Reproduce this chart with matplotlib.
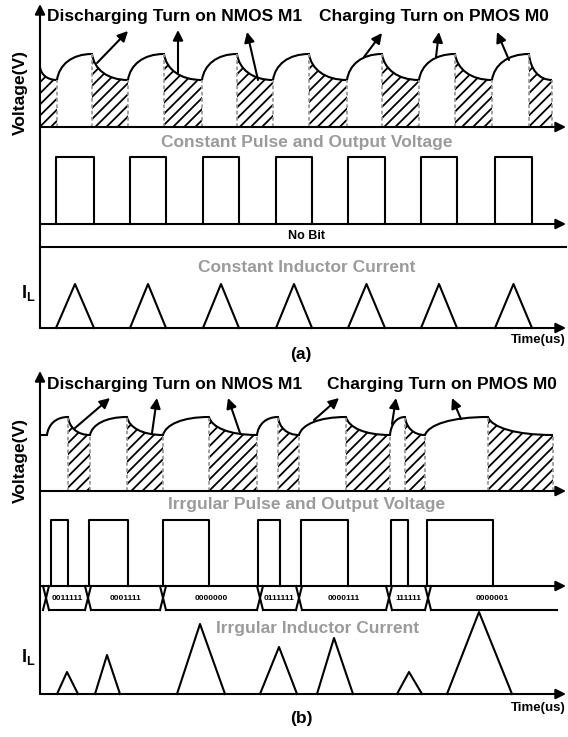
import matplotlib
matplotlib.use("Agg")
from matplotlib import pyplot as plt
from matplotlib.path import Path
from matplotlib.patches import PathPatch

# ---- data (x = time position in px, h = height above the row baseline) ----
# (a) output voltage: charge (c) / discharge (d) phase boundaries
a_edges = [40, 57, 92, 128, 164, 202, 237, 273, 309, 347, 382, 419, 455, 492, 529, 552]
a_phase = ['d', 'c'] * 7 + ['d']
a_v_high, a_v_low, a_v_start = 73, 47, 60

# (a) constant pulses and inductor current
a_pulse_on = [56, 130, 203, 276, 348, 421, 495]
a_pulse_off = [94, 166, 239, 312, 385, 457, 532]
a_pulse_h = 67
a_il_peak = [44, 44, 44, 44, 44, 44, 44]

# (b) output voltage
b_edges = [40, 47, 68, 90, 127, 163, 209, 257, 278, 299, 346, 390, 405, 425, 488, 553]
b_phase = ['f'] + ['c', 'd'] * 7
b_v_high, b_v_low = 74, 56

# (b) irregular pulses, bit words, inductor current
b_pulse_on = [51, 89, 163, 258, 301, 391, 427]
b_pulse_off = [68, 128, 209, 280, 348, 408, 493]
b_pulse_h = 66
b_bits = ['0011111', '0001111', '0000000', '0111111', '0000111', '111111', '0000001']
b_bit_t = [46, 88, 163, 260, 299, 389, 428]
b_bit_end = 557

b_il_start = [57, 95, 177, 260, 317, 397, 447]
b_il_top = [67, 107, 200, 279, 334, 409, 479]
b_il_end = [78, 120, 225, 297, 353, 422, 512]
b_il_peak = [22, 39, 70, 47, 56, 22, 82]

# pointer arrows (tail on curve -> head under the label)
a_pointers = [((97, 63), (128, 31)), ((178, 73), (178, 30)), ((258, 80), (247, 32)),
              ((364, 57), (382, 33)), ((436, 57), (439, 32)), ((509, 60), (497, 32))]
b_pointers = [((75, 428), (110, 398)), ((152, 433), (157, 398)), ((240, 433), (228, 398)),
              ((314, 420), (339, 398)), ((392, 424), (396, 398)), ((461, 419), (452, 398))]

# ---- layout (pixel rows) ----
X0, X1 = 40, 566
A_TOP, A_V, A_P, A_BUS, A_I = 4, 127, 224, 247, 328
B_TOP, B_V, B_P, B_BUS, B_I = 371, 491, 586, 610, 694
GREY = '#9b9b9b'
LW = 1.5

plt.rcParams['font.family'] = ['Liberation Sans', 'DejaVu Sans']
plt.rcParams['font.weight'] = 'bold'
plt.rcParams['hatch.linewidth'] = 1.3
plt.rcParams['mathtext.fontset'] = 'custom'
plt.rcParams['mathtext.bf'] = 'Liberation Sans:bold'
plt.rcParams['mathtext.rm'] = 'Liberation Sans:bold'

fig = plt.figure(figsize=(5.68, 7.37), dpi=100)
ax = fig.add_axes([0, 0, 1, 1])
ax.set_xlim(0, 568)
ax.set_ylim(737, 0)
ax.axis('off')


def arrow(x0, y0, x1, y1):
    ax.annotate('', xy=(x1, y1), xytext=(x0, y0),
                arrowprops=dict(arrowstyle='-|>', lw=LW, color='k', mutation_scale=15,
                                shrinkA=0, shrinkB=0))


def voltage(edges, phase, base, hi, lo, start):
    y_hi, y_lo = base - hi, base - lo
    verts, codes = [(edges[0], base - start)], [Path.MOVETO]
    for i, p in enumerate(phase):
        x0, x1 = edges[i], edges[i + 1]
        w = x1 - x0
        y0 = verts[-1][1]
        if p == 'f':
            verts.append((x1, y_lo))
            codes.append(Path.LINETO)
            continue
        yt = y_hi if p == 'c' else y_lo
        seg = [(x0 + 0.06 * w, y0 + 0.58 * (yt - y0)), (x0 + 0.42 * w, yt), (x1, yt)]
        verts += seg
        codes += [Path.CURVE4] * 3
        if p == 'd':
            hv = [(x0, base), (x0, y0)] + seg + [(x1, base), (x0, base)]
            hc = [Path.MOVETO, Path.LINETO] + [Path.CURVE4] * 3 + [Path.LINETO, Path.CLOSEPOLY]
            ax.add_patch(PathPatch(Path(hv, hc), facecolor='none', edgecolor='k',
                                   lw=0, hatch='///'))
            if x0 > X0:
                ax.plot([x0, x0], [base, y0], color=GREY, lw=1.3, ls=(0, (2, 1.5)))
            ax.plot([x1, x1], [base, yt], color=GREY, lw=1.3, ls=(0, (2, 1.5)))
    ax.add_patch(PathPatch(Path(verts, codes), fill=False, lw=LW, edgecolor='k'))


def pulses(on, off, base, h):
    for t0, t1 in zip(on, off):
        ax.plot([t0, t0, t1, t1], [base, base - h, base - h, base], color='k', lw=LW)


def triangles(t0s, tps, t1s, peaks, base):
    for t0, tp, t1, h in zip(t0s, tps, t1s, peaks):
        ax.plot([t0, tp, t1], [base, base - h, base], color='k', lw=LW)


# ---------------- panel (a) ----------------
voltage(a_edges, a_phase, A_V, a_v_high, a_v_low, a_v_start)
pulses(a_pulse_on, a_pulse_off, A_P, a_pulse_h)
triangles(a_pulse_on, [(p + q) / 2 for p, q in zip(a_pulse_on, a_pulse_off)],
          a_pulse_off, a_il_peak, A_I)
arrow(X0, A_I, X0, A_TOP)
for y in (A_V, A_P, A_I):
    arrow(X0, y, X1, y)
ax.plot([X0, X1], [A_BUS, A_BUS], color='k', lw=LW)
for tail, head in a_pointers:
    arrow(tail[0], tail[1], head[0], head[1])

ax.text(47, A_TOP + 12, 'Discharging Turn on NMOS M1', fontsize=12.5, va='center')
ax.text(319, A_TOP + 12, 'Charging Turn on PMOS M0', fontsize=12.5, va='center')
ax.text(20, 92, 'Voltage(V)', fontsize=12.5, rotation=90, va='center', ha='center')
ax.text(307, 142, 'Constant Pulse and Output Voltage', fontsize=12.5, color=GREY,
        va='center', ha='center')
ax.text(307, 236, 'No Bit', fontsize=9, va='center', ha='center')
ax.text(307, 267, 'Constant Inductor Current', fontsize=12.5, color=GREY,
        va='center', ha='center')
ax.text(28, 293, r'$\mathbf{I_L}$', fontsize=13, va='center', ha='center')
ax.text(X1, 340, 'Time(us)', fontsize=9.5, va='center', ha='right')
ax.text(301, 354, '(a)', fontsize=12.5, va='center', ha='center')

# ---------------- panel (b) ----------------
voltage(b_edges, b_phase, B_V, b_v_high, b_v_low, b_v_low)
pulses(b_pulse_on, b_pulse_off, B_P, b_pulse_h)
triangles(b_il_start, b_il_top, b_il_end, b_il_peak, B_I)
arrow(X0, B_I, X0, B_TOP)
for y in (B_V, B_P, B_I):
    arrow(X0, y, X1, y)
for tail, head in b_pointers:
    arrow(tail[0], tail[1], head[0], head[1])

# bit-word bus
d = 3
bounds = b_bit_t + [b_bit_end]
for t in b_bit_t:
    ax.plot([t - d, t + d], [B_P, B_BUS], color='k', lw=LW)
    ax.plot([t - d, t + d], [B_BUS, B_P], color='k', lw=LW)
for i, word in enumerate(b_bits):
    t0, t1 = bounds[i], bounds[i + 1]
    end = t1 - d if i + 1 < len(b_bits) else t1
    ax.plot([t0 + d, end], [B_BUS, B_BUS], color='k', lw=LW)
    ax.text((t0 + t1) / 2, (B_P + B_BUS) / 2, word, fontsize=6, va='center', ha='center')

ax.text(47, B_TOP + 13, 'Discharging Turn on NMOS M1', fontsize=12.5, va='center')
ax.text(327, B_TOP + 13, 'Charging Turn on PMOS M0', fontsize=12.5, va='center')
ax.text(20, 460, 'Voltage(V)', fontsize=12.5, rotation=90, va='center', ha='center')
ax.text(307, 505, 'Irrgular Pulse and Output Voltage', fontsize=12.5, color=GREY,
        va='center', ha='center')
ax.text(318, 628, 'Irrgular Inductor Current', fontsize=12.5, color=GREY,
        va='center', ha='center')
ax.text(28, 657, r'$\mathbf{I_L}$', fontsize=13, va='center', ha='center')
ax.text(X1, 708, 'Time(us)', fontsize=9.5, va='center', ha='right')
ax.text(301, 718, '(b)', fontsize=12.5, va='center', ha='center')

fig.savefig('out.png', dpi=100)
